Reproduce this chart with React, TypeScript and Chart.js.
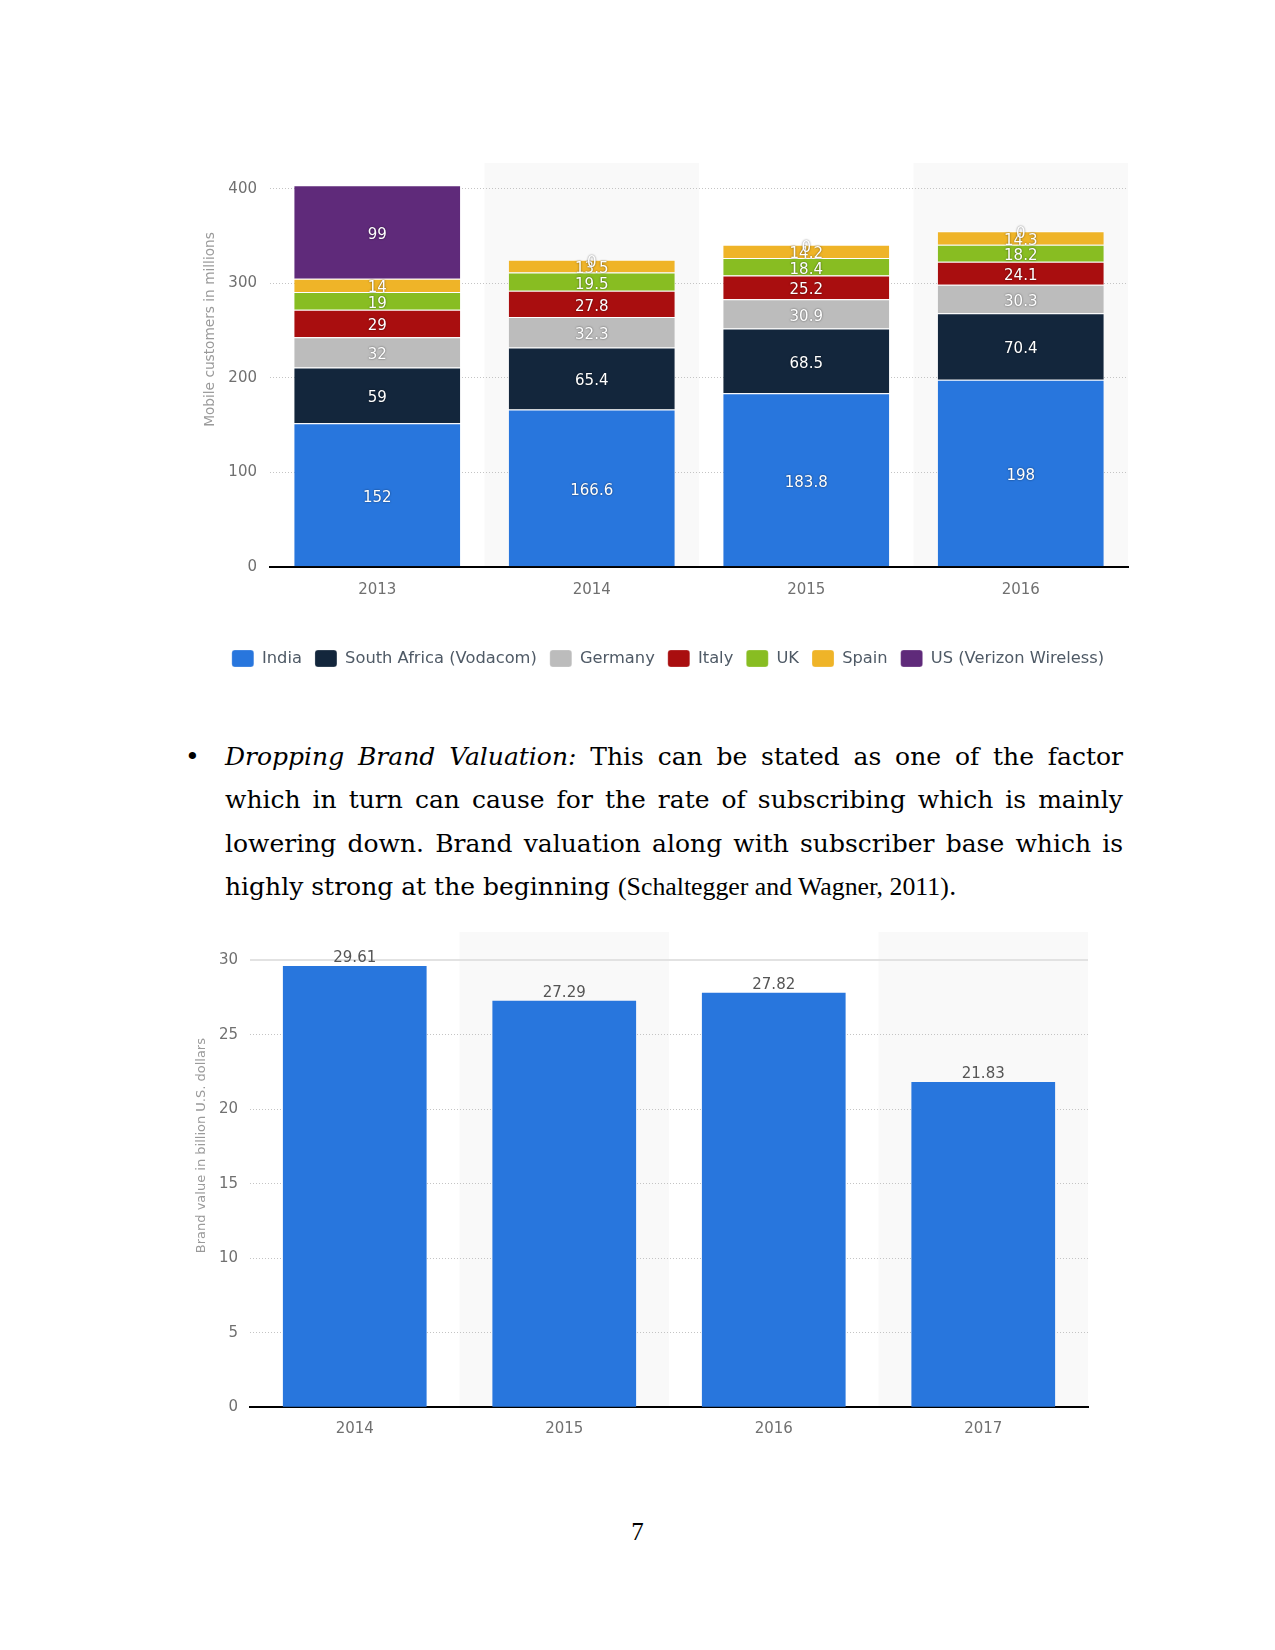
import React, { useEffect, useRef } from 'react';
import { Chart, registerables } from 'chart.js';

Chart.register(...registerables);

// ---------- Chart 1: mobile customers (millions) ----------
const subscriberYears = ['2013', '2014', '2015', '2016'];
const seriesNames = ['India', 'South Africa (Vodacom)', 'Germany', 'Italy', 'UK', 'Spain', 'US (Verizon Wireless)'];
const seriesColors = ['#2876dd', '#13263c', '#bcbcbc', '#a90e0f', '#88bd22', '#efb428', '#5f2a7a'];
const india = [152, 166.6, 183.8, 198];
const southAfrica = [59, 65.4, 68.5, 70.4];
const germany = [32, 32.3, 30.9, 30.3];
const italy = [29, 27.8, 25.2, 24.1];
const uk = [19, 19.5, 18.4, 18.2];
const spain = [14, 13.5, 14.2, 14.3];
const usVerizon = [99, 0, 0, 0];
const subscriberTicks = [0, 100, 200, 300, 400];

// ---------- Chart 2: brand value (billion USD) ----------
const brandYears = ['2014', '2015', '2016', '2017'];
const brandValues = [29.61, 27.29, 27.82, 21.83];
const brandTicks = [0, 5, 10, 15, 20, 25, 30];

const SANS = '"DejaVu Sans", sans-serif';

const makeBands = (indices: number[], color: string) => ({
  id: 'bands',
  beforeDraw(chart: any) {
    const { ctx, chartArea, scales } = chart;
    const n = chart.data.labels.length;
    const w = (chartArea.right - chartArea.left) / n;
    ctx.save();
    ctx.fillStyle = color;
    indices.forEach((i) => {
      const cx = scales.x.getPixelForValue(i);
      ctx.fillRect(cx - w / 2, chartArea.top, w, chartArea.bottom - chartArea.top);
    });
    ctx.restore();
  },
});

const makeYTitle = (text: string, x: number, y: number, size: number) => ({
  id: 'yTitle',
  afterDraw(chart: any) {
    const { ctx } = chart;
    ctx.save();
    ctx.translate(x, y);
    ctx.rotate(-Math.PI / 2);
    ctx.font = `${size}px ${SANS}`;
    ctx.fillStyle = '#9a9a9a';
    ctx.textAlign = 'center';
    ctx.textBaseline = 'middle';
    ctx.fillText(text, 0, 0);
    ctx.restore();
  },
});

const stackLabels = {
  id: 'stackLabels',
  afterDatasetsDraw(chart: any) {
    const { ctx } = chart;
    ctx.save();
    ctx.font = `15px ${SANS}`;
    ctx.textAlign = 'center';
    ctx.textBaseline = 'middle';
    ctx.fillStyle = '#ffffff';
    ctx.shadowColor = 'rgba(0,0,0,0.6)';
    ctx.shadowBlur = 2;
    chart.data.datasets.forEach((ds: any, di: number) => {
      const meta = chart.getDatasetMeta(di);
      meta.data.forEach((el: any, i: number) => {
        const { x, y, base } = el.getProps(['x', 'y', 'base'], true);
        ctx.fillText(String(ds.data[i]), x, (y + base) / 2 + 3);
      });
    });
    ctx.restore();
  },
};

const topLabels = {
  id: 'topLabels',
  afterDatasetsDraw(chart: any) {
    const { ctx } = chart;
    ctx.save();
    ctx.font = `15px ${SANS}`;
    ctx.textAlign = 'center';
    ctx.textBaseline = 'alphabetic';
    ctx.fillStyle = '#555555';
    chart.data.datasets.forEach((ds: any, di: number) => {
      const meta = chart.getDatasetMeta(di);
      meta.data.forEach((el: any, i: number) => {
        const { x, y } = el.getProps(['x', 'y'], true);
        ctx.fillText(Number(ds.data[i]).toFixed(2), x, y - 4);
      });
    });
    ctx.restore();
  },
};

const noScalePadding = (s: any) => {
  s.paddingTop = 0;
  s.paddingBottom = 0;
};

export default function App() {
  const ref1 = useRef<HTMLCanvasElement>(null);
  const ref2 = useRef<HTMLCanvasElement>(null);

  useEffect(() => {
    const seriesData = [india, southAfrica, germany, italy, uk, spain, usVerizon];
    const c1 = new Chart(ref1.current as HTMLCanvasElement, {
      type: 'bar',
      data: {
        labels: subscriberYears,
        datasets: seriesData.map((d, i) => ({
          label: seriesNames[i],
          data: d,
          backgroundColor: seriesColors[i],
          borderColor: '#ffffff',
          borderWidth: { top: 1, bottom: 0, left: 0, right: 0 },
          borderSkipped: false,
          barPercentage: 0.774,
          categoryPercentage: 1,
          stack: 'total',
        })),
      },
      options: {
        animation: false,
        responsive: false,
        maintainAspectRatio: false,
        layout: { padding: { top: 13, right: 28, bottom: 0, left: 28 } },
        plugins: {
          legend: {
            position: 'bottom',
            labels: {
              boxWidth: 22,
              boxHeight: 17,
              padding: 13,
              useBorderRadius: true,
              borderRadius: 3,
              color: '#4f5a66',
              font: { family: SANS, size: 16.3 },
            },
          },
          tooltip: { enabled: false },
        },
        scales: {
          x: {
            stacked: true,
            grid: { display: false, drawTicks: false },
            border: { display: true, color: '#000000', width: 2 },
            ticks: { padding: 14, color: '#707070', font: { family: SANS, size: 15 } },
            afterFit: (s: any) => { s.height = 70.3; },
          },
          y: {
            stacked: true,
            min: 0,
            max: 427.5,
            afterBuildTicks: (s: any) => { s.ticks = subscriberTicks.map((v) => ({ value: v })); },
            grid: { color: '#c4c4c4', lineWidth: 1, drawTicks: false },
            border: { display: false, dash: [1, 2] },
            ticks: { padding: 13, color: '#707070', font: { family: SANS, size: 15 } },
            afterFit: (s: any) => { s.width = 62; noScalePadding(s); },
          },
        },
      } as any,
      plugins: [
        makeBands([1, 3], '#f9f9f9'),
        stackLabels,
        makeYTitle('Mobile customers in millions', 30, 179.5, 13.7),
      ],
    });

    const c2 = new Chart(ref2.current as HTMLCanvasElement, {
      type: 'bar',
      data: {
        labels: brandYears,
        datasets: [
          {
            label: 'Brand value',
            data: brandValues,
            backgroundColor: '#2876dd',
            borderWidth: 0,
            barPercentage: 0.686,
            categoryPercentage: 1,
          },
        ],
      },
      options: {
        animation: false,
        responsive: false,
        maintainAspectRatio: false,
        layout: { padding: { top: 12, right: 22, bottom: 0, left: 0 } },
        plugins: { legend: { display: false }, tooltip: { enabled: false } },
        scales: {
          x: {
            grid: { display: false, drawTicks: false },
            border: { display: true, color: '#000000', width: 2 },
            ticks: { padding: 12.5, color: '#707070', font: { family: SANS, size: 15 } },
            afterFit: (s: any) => { s.height = 52.7; },
          },
          y: {
            min: 0,
            max: 31.9,
            afterBuildTicks: (s: any) => { s.ticks = brandTicks.map((v) => ({ value: v })); },
            grid: {
              color: (c: any) => (c.tick && c.tick.value === 30 ? '#e2e2e2' : '#c4c4c4'),
              lineWidth: (c: any) => (c.tick && c.tick.value === 30 ? 2 : 1),
              drawTicks: false,
            },
            border: { display: false, dash: (c: any) => (c.tick && c.tick.value === 30 ? [] : [1, 2]) },
            ticks: { padding: 12, color: '#707070', font: { family: SANS, size: 15 } },
            afterFit: (s: any) => { s.width = 70; noScalePadding(s); },
          },
        },
      } as any,
      plugins: [
        makeBands([1, 3], '#f9f9f9'),
        topLabels,
        makeYTitle('Brand value in billion U.S. dollars', 21.7, 225.6, 13),
      ],
    });

    return () => {
      c1.destroy();
      c2.destroy();
    };
  }, []);

  const lineBase: React.CSSProperties = {
    position: 'absolute',
    left: 225,
    width: 898,
    height: 43.5,
    lineHeight: '43.5px',
    fontFamily: '"DejaVu Serif", serif',
    fontSize: 25,
    color: '#000',
    textAlign: 'justify',
    textAlignLast: 'justify' as any,
  };
  const cite: React.CSSProperties = { fontFamily: '"Liberation Serif", serif', fontSize: 25.8 };
  const top0 = 734.5;

  return (
    <div style={{ position: 'absolute', left: 0, top: 0, width: 1275, height: 1650, background: '#fff', overflow: 'hidden' }}>
      <canvas ref={ref1} width={976} height={527} style={{ position: 'absolute', left: 180, top: 150 }} />

      <div style={{ ...lineBase, left: 185, width: 20, top: top0, textAlign: 'left', textAlignLast: 'left' as any }}>•</div>
      <div style={{ ...lineBase, top: top0 }}>
        <i>Dropping Brand Valuation:</i> This can be stated as one of the factor
      </div>
      <div style={{ ...lineBase, top: top0 + 43.5 }}>
        which in turn can cause for the rate of subscribing which is mainly
      </div>
      <div style={{ ...lineBase, top: top0 + 87 }}>
        lowering down. Brand valuation along with subscriber base which is
      </div>
      <div style={{ ...lineBase, top: top0 + 130.5, textAlign: 'left', textAlignLast: 'left' as any }}>
        highly strong at the beginning <span style={cite}>(Schaltegger and Wagner, 2011)</span>.
      </div>

      <canvas ref={ref2} width={930} height={540} style={{ position: 'absolute', left: 180, top: 920 }} />

      <div
        style={{
          position: 'absolute',
          left: 637.5,
          top: 1519,
          transform: 'translateX(-50%)',
          fontFamily: '"Liberation Serif", serif',
          fontSize: 25,
          lineHeight: '25px',
          color: '#000',
        }}
      >
        7
      </div>
    </div>
  );
}
